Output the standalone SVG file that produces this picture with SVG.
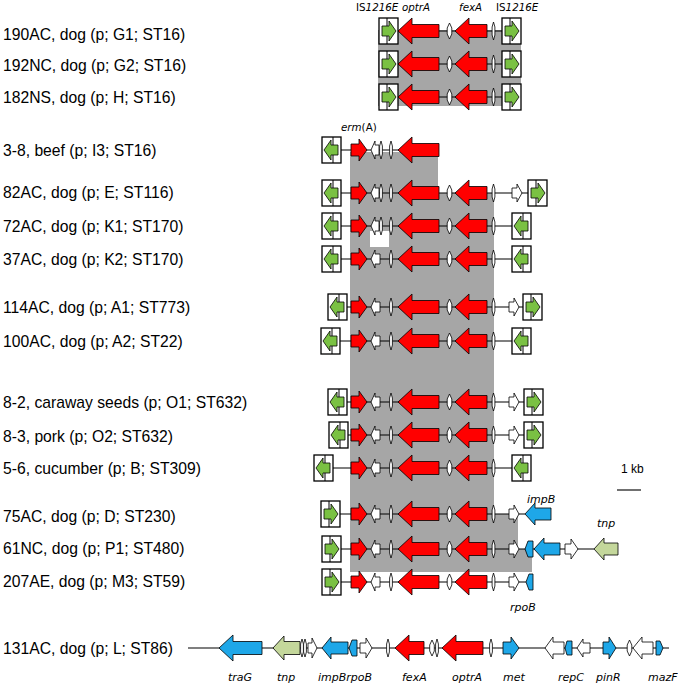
<svg xmlns="http://www.w3.org/2000/svg" xmlns:xlink="http://www.w3.org/1999/xlink" width="678" height="685" viewBox="0 0 678 685">
<style>
.ln{stroke:#000;stroke-width:1.2;fill:none}
.g{stroke:#000;stroke-width:0.8;stroke-linejoin:miter}
.red{fill:#ff0000}
.wh{fill:#fff}
.grn{fill:#7ac143}
.blu{fill:#1ea7e8}
.pg{fill:#c4d79b}
.box{fill:#fff;stroke:#000;stroke-width:1.3}
.lbl{font-family:"Liberation Sans",Arial,sans-serif;font-size:15.7px;fill:#000}
.gn{font-family:"DejaVu Sans",Verdana,sans-serif;font-size:11px;font-style:italic;fill:#000}
.gt{font-size:10.3px}
.up{font-style:normal}
.sc{font-family:"Liberation Sans",Arial,sans-serif;font-size:12px;fill:#000}
</style>
<defs>
<g id="boxR"><rect class="box" x="0" y="0" width="19" height="26"/><line x1="8" y1="0" x2="8" y2="26" stroke="#000" stroke-width="1"/><polygon class="g grn" points="3,8 10,8 10,3 17,13 10,23 10,18 3,18"/></g>
<g id="boxL"><rect class="box" x="0" y="0" width="19" height="26"/><line x1="11" y1="0" x2="11" y2="26" stroke="#000" stroke-width="1"/><polygon class="g grn" points="16,8 9,8 9,3 2,13 9,23 9,18 16,18"/></g>
<polygon id="nar" class="g wh" points="0,-9 1.4,-4 1.4,4 0,9 -1.4,4 -1.4,-4"/>
<polygon id="dia" class="g wh" points="0,-8 2.3,-3 2.3,3 0,8 -2.3,3 -2.3,-3"/>
<polygon id="erm" class="g red" points="351,-6 359,-6 359,-11 367,0 359,11 359,6 351,6"/>
<polygon id="optrA" class="g red" points="398,0 412,-13 412,-6.5 439,-6.5 439,6.5 412,6.5 412,13"/>
<polygon id="fexA" class="g red" points="455,0 469,-13 469,-6.5 487,-6.5 487,6.5 469,6.5 469,13"/>
<polygon id="wsingle" class="g wh" points="371,0 375,-9 375,-5 380,-5 380,5 375,5 375,9"/>
<g id="wdouble"><polygon class="g wh" points="371,0 375,-9 375,-5 379,-5 379,5 375,5 375,9"/><use href="#nar" x="381"/></g>
<polygon id="wR" class="g wh" points="509,-5 514,-5 514,-9 519,0 514,9 514,5 509,5"/>
<g id="cof"><use href="#optrA"/><use href="#dia" x="449.5"/><use href="#fexA"/><use href="#nar" x="493.5"/></g>
<g id="cerm"><use href="#erm"/><use href="#nar" x="391"/></g>
</defs>

<g id="homology">
<rect x="378" y="30" width="143" height="76" fill="#a6a6a6"/>
<polygon points="350,152 438,152 438,193 494,193 494,514 518,514 518,549 532,549 532,572 350,572" fill="#a6a6a6"/>
<rect x="370" y="231" width="19" height="16" fill="#fff"/>
</g>

<g id="connectors">
<path class="ln" d="M396,31H502 M396,64H502 M396,97H502 M340,150H438 M340,193H528 M340,226H512 M340,259H512 M347,307H523 M340,341H512 M347,402H524 M348,435H524 M333,468H512 M340,514H525 M341,549H594 M341,582H526 M188,648H669"/>
</g>

<g id="top-labels">
<text class="gn gt" x="356" y="11"><tspan class="up">IS</tspan>1216E</text>
<text class="gn gt" x="402" y="11">optrA</text>
<text class="gn gt" x="459" y="11">fexA</text>
<text class="gn gt" x="496" y="11"><tspan class="up">IS</tspan>1216E</text>
</g>

<g id="r190AC">
<text class="lbl" x="3" y="40">190AC, dog (p; G1; ST16)</text>
<use href="#boxR" x="379" y="18"/><use href="#cof" y="31"/><use href="#boxR" x="502" y="18"/>
</g>
<g id="r192NC">
<text class="lbl" x="3" y="71">192NC, dog (p; G2; ST16)</text>
<use href="#boxR" x="379" y="51"/><use href="#cof" y="64"/><use href="#boxR" x="502" y="51"/>
</g>
<g id="r182NS">
<text class="lbl" x="3" y="103">182NS, dog (p; H; ST16)</text>
<use href="#boxR" x="379" y="84"/><use href="#cof" y="97"/><use href="#boxR" x="502" y="84"/>
</g>
<g id="r3-8">
<text class="lbl" x="3" y="156">3-8, beef (p; I3; ST16)</text>
<text class="gn gt" x="341" y="131">erm<tspan class="up">(A)</tspan></text>
<use href="#boxL" x="322" y="137"/><use href="#cerm" y="150"/><use href="#wdouble" y="150"/><use href="#optrA" y="150"/>
</g>
<g id="r82AC">
<text class="lbl" x="3" y="198">82AC, dog (p; E; ST116)</text>
<use href="#boxL" x="322" y="180"/><use href="#cerm" y="193"/><use href="#wdouble" y="193"/><use href="#cof" y="193"/>
<polygon class="g wh" points="512,188 517,188 517,184 522,193 517,202 517,198 512,198"/>
<use href="#boxR" x="528" y="180"/>
</g>
<g id="r72AC">
<text class="lbl" x="3" y="232">72AC, dog (p; K1; ST170)</text>
<use href="#boxL" x="322" y="213"/><use href="#cerm" y="226"/><use href="#wdouble" y="226"/><use href="#cof" y="226"/><use href="#boxL" x="512" y="213"/>
</g>
<g id="r37AC">
<text class="lbl" x="3" y="265">37AC, dog (p; K2; ST170)</text>
<use href="#boxL" x="322" y="246"/><use href="#cerm" y="259"/><use href="#wsingle" y="259"/><use href="#cof" y="259"/><use href="#boxL" x="512" y="246"/>
</g>
<g id="r114AC">
<text class="lbl" x="3" y="313">114AC, dog (p; A1; ST773)</text>
<use href="#boxL" x="328" y="294"/><use href="#cerm" y="307"/><use href="#wsingle" y="307"/><use href="#cof" y="307"/><use href="#wR" y="307"/><use href="#boxR" x="523" y="294"/>
</g>
<g id="r100AC">
<text class="lbl" x="3" y="347">100AC, dog (p; A2; ST22)</text>
<use href="#boxL" x="321" y="328"/><use href="#cerm" y="341"/><use href="#wsingle" y="341"/><use href="#cof" y="341"/><use href="#boxL" x="512" y="328"/>
</g>
<g id="r8-2">
<text class="lbl" x="3" y="408">8-2, caraway seeds (p; O1; ST632)</text>
<use href="#boxL" x="328" y="389"/><use href="#cerm" y="402"/><use href="#wsingle" y="402"/><use href="#cof" y="402"/><use href="#wR" y="402"/><use href="#boxR" x="524" y="389"/>
</g>
<g id="r8-3">
<text class="lbl" x="3" y="442">8-3, pork (p; O2; ST632)</text>
<use href="#boxL" x="329" y="422"/><use href="#cerm" y="435"/><use href="#wsingle" y="435"/><use href="#cof" y="435"/><use href="#wR" y="435"/><use href="#boxR" x="524" y="422"/>
</g>
<g id="r5-6">
<text class="lbl" x="3" y="474">5-6, cucumber (p; B; ST309)</text>
<use href="#boxL" x="314" y="455"/><use href="#cerm" y="468"/><use href="#wsingle" y="468"/><use href="#cof" y="468"/><use href="#boxL" x="512" y="455"/>
</g>
<g id="r75AC">
<text class="lbl" x="3" y="522">75AC, dog (p; D; ST230)</text>
<text class="gn" x="527" y="503">impB</text>
<use href="#boxR" x="321" y="501"/><use href="#cerm" y="514"/><use href="#wsingle" y="514"/><use href="#cof" y="514"/><use href="#wR" y="514"/>
<polygon class="g blu" points="525,514 535,503 535,508 551,508 551,520 535,520 535,525"/>
</g>
<g id="r61NC">
<text class="lbl" x="3" y="554">61NC, dog (p; P1; ST480)</text>
<text class="gn" x="597" y="527">tnp</text>
<use href="#boxR" x="322" y="536"/><use href="#cerm" y="549"/><use href="#wsingle" y="549"/><use href="#cof" y="549"/><use href="#wR" y="549"/>
<polygon class="g blu" points="525,549 528,541 533,541 533,557 528,557"/>
<polygon class="g blu" points="534,549 544,538 544,543 560,543 560,555 544,555 544,560"/>
<polygon class="g wh" points="565,544 571,544 571,539 578,549 571,559 571,554 565,554"/>
<polygon class="g pg" points="594,549 604,538 604,543 618,543 618,555 604,555 604,560"/>
</g>
<g id="r207AE">
<text class="lbl" x="3" y="587">207AE, dog (p; M3; ST59)</text>
<text class="gn" x="510" y="611">rpoB</text>
<use href="#boxR" x="322" y="569"/><use href="#cerm" y="582"/><use href="#wsingle" y="582"/><use href="#cof" y="582"/><use href="#wR" y="582"/>
<polygon class="g blu" points="526,582 529,574 533,574 533,590 529,590"/>
</g>
<g id="r131AC">
<text class="lbl" x="3" y="654">131AC, dog (p; L; ST86)</text>
<polygon class="g blu" points="219,648 233,635 233,641.5 262,641.5 262,654.5 233,654.5 233,661"/>
<polygon class="g pg" points="273,648 284,636 284,641.5 300,641.5 300,654.5 284,654.5 284,660"/>
<use href="#nar" x="302" y="648"/><use href="#nar" x="305" y="648"/>
<polygon class="g wh" points="308,643 312,643 312,638 317,648 312,658 312,653 308,653"/>
<polygon class="g blu" points="322,648 331,637 331,642 348,642 348,654 331,654 331,659"/>
<polygon class="g blu" points="349,648 352,640 357,640 357,656 352,656"/>
<polygon class="g wh" points="360,643 366,643 366,638 372,648 366,658 366,653 360,653"/>
<use href="#nar" x="388" y="648"/>
<polygon class="g red" points="395,648 409,635 409,641.5 424,641.5 424,654.5 409,654.5 409,661"/>
<use href="#dia" x="432" y="648"/><use href="#nar" x="437" y="648"/>
<polygon class="g red" points="442,648 456,635 456,641.5 483,641.5 483,654.5 456,654.5 456,661"/>
<use href="#nar" x="491" y="648"/>
<polygon class="g blu" points="503,642 511,642 511,637 519,648 511,659 511,654 503,654"/>
<polygon class="g wh" points="545,648 553,637 553,642 564,642 564,654 553,654 553,659"/>
<polygon class="g blu" points="565,648 567,641 572,641 572,655 567,655"/>
<polygon class="g wh" points="577,648 583,639 583,643 590,643 590,653 583,653 583,657"/>
<polygon class="g blu" points="603,642 609,642 609,637 616,648 609,659 609,654 603,654"/>
<use href="#dia" x="629.5" y="648"/>
<polygon class="g wh" points="633,648 642,637 642,642 653,642 653,654 642,654 642,659"/>
<polygon class="g blu" points="656,641 660,641 663,648 660,655 656,655"/>
<text class="gn" x="228" y="681">traG</text>
<text class="gn" x="277" y="681">tnp</text>
<text class="gn" x="318" y="681">impBrpoB</text>
<text class="gn" x="402" y="681">fexA</text>
<text class="gn" x="452" y="681">optrA</text>
<text class="gn" x="503" y="681">met</text>
<text class="gn" x="558" y="681">repC</text>
<text class="gn" x="596" y="681">pinR</text>
<text class="gn" x="648" y="681">mazF</text>
</g>

<g id="scale">
<text class="sc" x="621" y="473">1 kb</text>
<line x1="617" y1="490" x2="641" y2="490" stroke="#404040" stroke-width="1.5"/>
</g>
</svg>
